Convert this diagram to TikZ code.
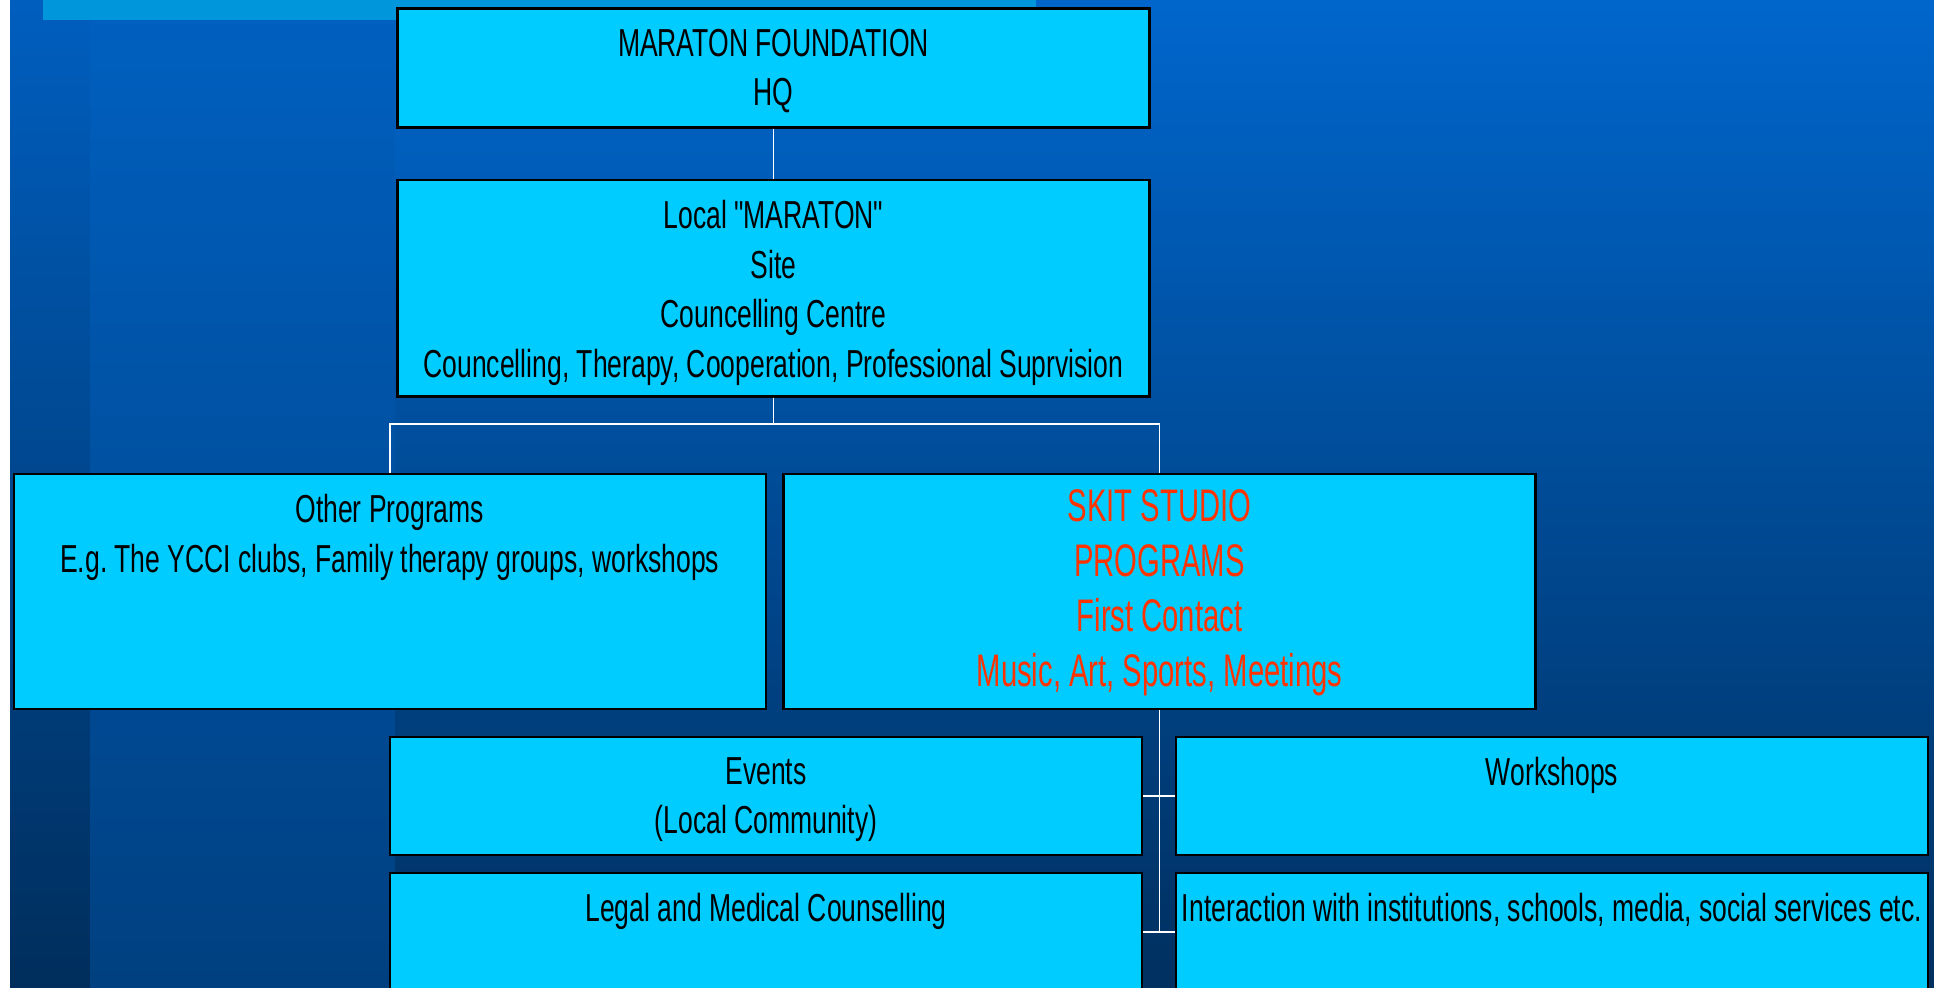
\documentclass[tikz,border=0pt]{standalone}
\usepackage{fontspec}
\newfontfamily\chartfont[FakeStretch=0.68]{Liberation Sans}
\newfontfamily\skitfont[FakeStretch=0.64]{Liberation Sans}
\definecolor{boxcyan}{HTML}{00CCFF}
\definecolor{skitred}{HTML}{FF3300}
\definecolor{bandblue}{HTML}{0096DC}
\frenchspacing

\begin{document}
\begin{tikzpicture}[x=1cm, y=-1cm,
  orgbox/.style={draw=black, line width=0.7pt, fill=boxcyan, minimum width=7.52cm, inner sep=0pt},
  boxtext/.style={anchor=north, yshift=-0.21cm, inner sep=0pt, align=center,
    font=\chartfont\fontsize{11.1pt}{14.1pt}\selectfont},
  skittext/.style={anchor=north, yshift=-0.165cm, inner sep=0pt, align=center, text=skitred,
    font=\skitfont\fontsize{13pt}{15.65pt}\selectfont},
  wire/.style={draw=white, line width=0.5pt}]
\useasboundingbox (0,0) rectangle (19.34,9.87);
\clip (0,0) rectangle (19.34,9.87);

% slide background
\fill[white] (0,0) rectangle (19.34,9.87);
\fill[top color={rgb,255:red,0;green,94;blue,190}, bottom color={rgb,255:red,0;green,46;blue,92}] (0.10,0) rectangle (0.90,9.87);
\fill[top color={rgb,255:red,0;green,96;blue,192}, bottom color={rgb,255:red,0;green,64;blue,128}] (0.90,0) rectangle (3.95,9.87);
\fill[top color={rgb,255:red,0;green,102;blue,204}, bottom color={rgb,255:red,0;green,48;blue,96}] (3.95,0) rectangle (19.34,9.87);
\fill[bandblue] (0.43,0) rectangle (10.36,0.20);

% boxes
\node[orgbox, minimum height=1.19cm] (hq) at (7.735,0.68) {};
\node[orgbox, minimum height=2.165cm] (local) at (7.735,2.8825) {};
\node[orgbox, minimum height=2.35cm] (other) at (3.8975,5.915) {};
\node[orgbox, minimum height=2.35cm] (skit) at (11.595,5.915) {};
\node[orgbox, minimum height=1.18cm] (events) at (7.66,7.96) {};
\node[orgbox, minimum height=1.18cm] (workshops) at (15.52,7.96) {};
\node[orgbox, minimum height=1.18cm] (legal) at (7.66,9.32) {};
\node[orgbox, minimum height=1.18cm] (interact) at (15.52,9.32) {};

% texts
\node[boxtext] (hqText) at (hq.north) {MARATON FOUNDATION\\HQ};
\node[boxtext] (localText) at (local.north) {Local "MARATON"\\Site\\Councelling Centre\\Councelling, Therapy, Cooperation, Professional Suprvision};
\node[boxtext] (otherText) at (other.north) {Other Programs\\E.g. The YCCI clubs, Family therapy groups, workshops};
\node[skittext] (skitText) at (skit.north) {SKIT STUDIO\\PROGRAMS\\First Contact\\Music, Art, Sports, Meetings};
\node[boxtext] (eventsText) at (events.north) {Events\\(Local Community)};
\node[boxtext] (workshopsText) at (workshops.north) {Workshops};
\node[boxtext] (legalText) at (legal.north) {Legal and Medical Counselling};
\node[boxtext] (interactText) at (interact.north) {Interaction with institutions, schools, media, social services etc.};

% connectors
\draw[wire] (hq.south) -- (local.north);
\draw[wire] (local.south) -- ++(0,0.26) -| (other.north);
\draw[wire] (local.south) -- ++(0,0.26) -| (skit.north);
\draw[wire] (skit.south) -- (skit.south |- legal.east);
\draw[wire] (events.east) -- (workshops.west);
\draw[wire] (legal.east) -- (interact.west);
\end{tikzpicture}
\end{document}
